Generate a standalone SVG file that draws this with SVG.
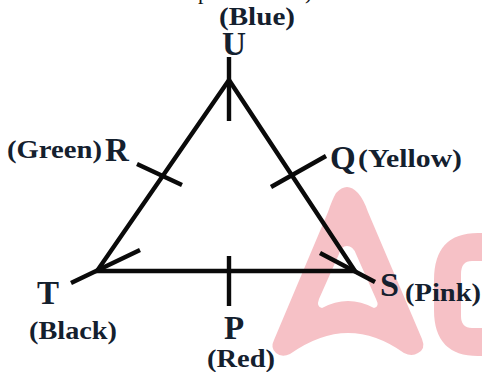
<svg xmlns="http://www.w3.org/2000/svg" width="482" height="372" viewBox="0 0 482 372">
<style>
text{font-family:"Liberation Serif","DejaVu Serif",serif;font-weight:bold;fill:#14202e}
.n{font-size:33px}
.c{font-size:26px}
.f{font-size:22px;font-weight:normal;fill:#111}
.l{stroke:#0a0a0a;stroke-width:4.4;fill:none;stroke-linecap:butt}
.w{fill:#f6c1c6;stroke:none}
</style>
<rect width="482" height="372" fill="#fff"/>
<g id="watermark">
<path class="w" fill-rule="evenodd" d="M336 193Q347 181 358 193Q364 200 368 212L422 339Q426 349 418 353Q412 357 404 353Q376 333 348 333Q320 333 290 354Q282 358 276 353Q270 348 274 340L328 212Q332 200 336 193ZM347 246Q341 246 339 254L319 299Q316 307 322 308Q335 301 348 301Q361 301 374 308Q380 307 376 299L356 254Q353 246 347 246Z"/>
<path class="w" fill-rule="evenodd" d="M482 233H478Q434 233 434 280V310Q434 356 478 356H482V328H472Q461 328 461 316V274Q461 261 472 261H482Z"/>
</g>
<g id="connectors">
<path class="l" d="M229 80L97 271H355L229 80"/>
<path class="l" d="M229 57V121M229 256V306M137 164L182 185M271 187L326 156M71 283L140 250M320 253L375 282"/>
</g>
<text class="f" x="198" y="-1">p</text><text class="f" x="305" y="-1">)</text>
<g id="node-U"><text class="n" x="222" y="55" textLength="24" lengthAdjust="spacingAndGlyphs">U</text><text class="c" x="219" y="25" textLength="76" lengthAdjust="spacingAndGlyphs">(Blue)</text></g>
<g id="node-R"><text class="n" x="105" y="161">R</text><text class="c" x="7" y="158" textLength="95" lengthAdjust="spacingAndGlyphs">(Green)</text></g>
<g id="node-Q"><text class="n" x="330" y="169">Q</text><text class="c" x="358" y="167" textLength="104" lengthAdjust="spacingAndGlyphs">(Yellow)</text></g>
<g id="node-T"><text class="n" x="37" y="304">T</text><text class="c" x="29" y="339" textLength="88" lengthAdjust="spacingAndGlyphs">(Black)</text></g>
<g id="node-P"><text class="n" x="224" y="339">P</text><text class="c" x="207" y="367" textLength="68" lengthAdjust="spacingAndGlyphs">(Red)</text></g>
<g id="node-S"><text class="n" x="380" y="296" textLength="19" lengthAdjust="spacingAndGlyphs">S</text><text class="c" x="405" y="301" textLength="76" lengthAdjust="spacingAndGlyphs">(Pink)</text></g>
</svg>
